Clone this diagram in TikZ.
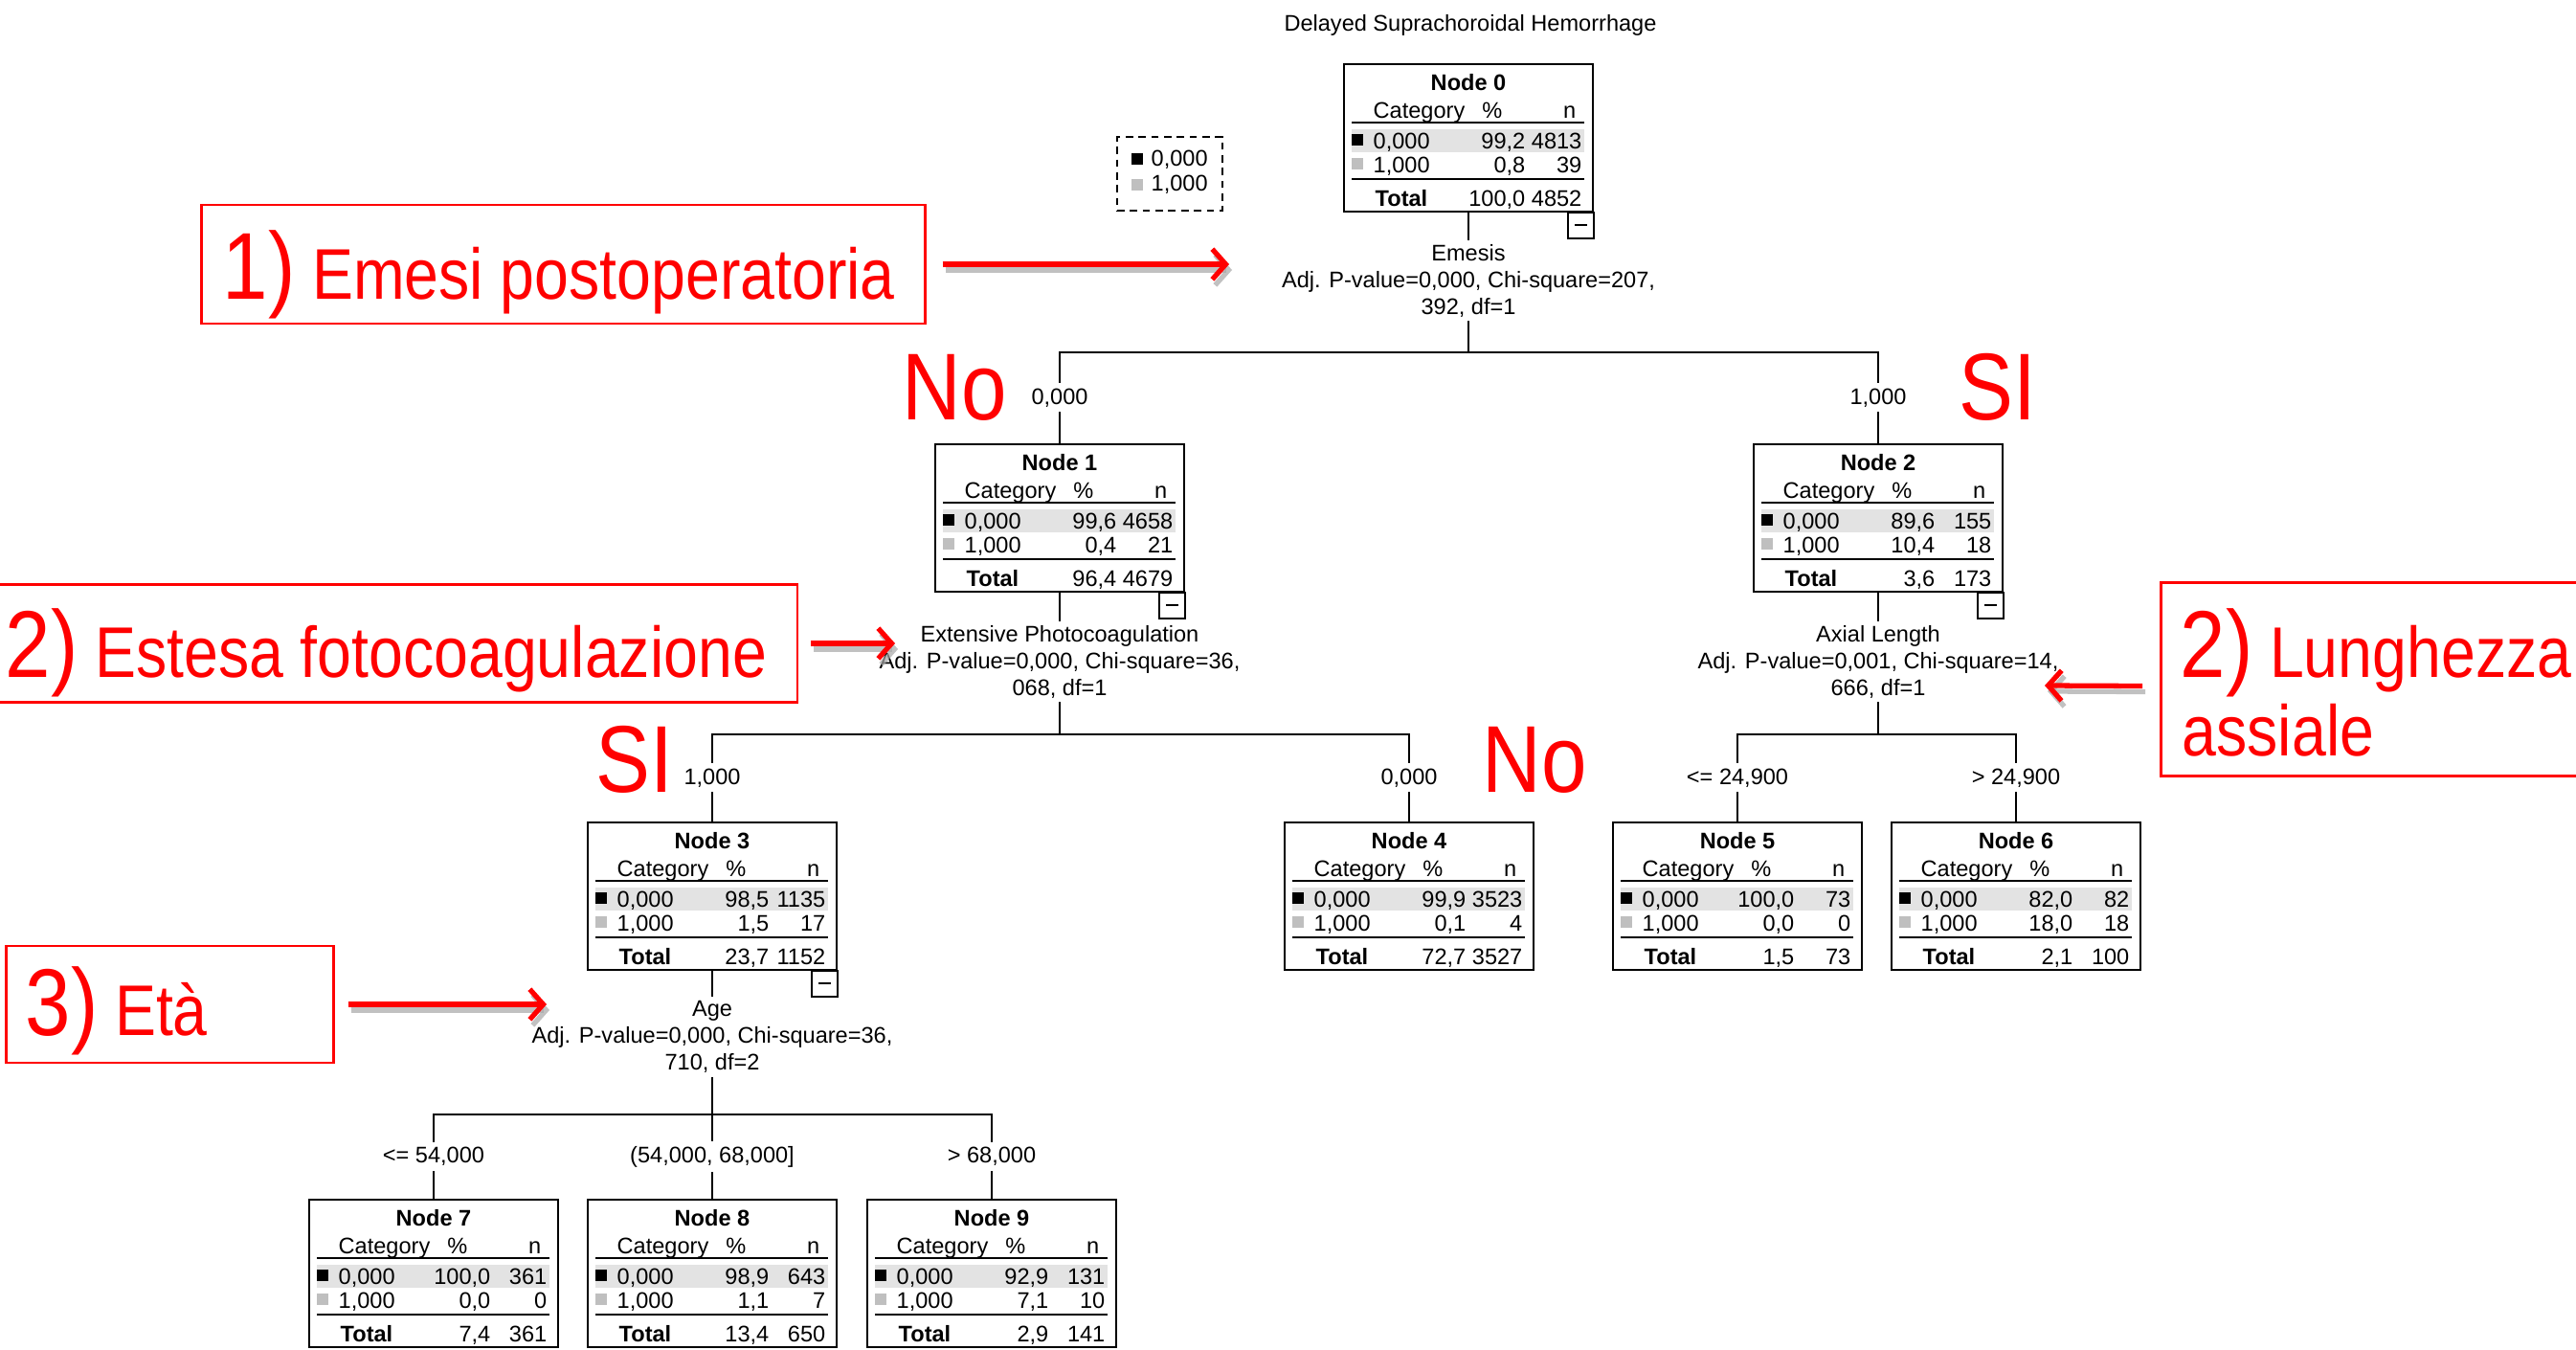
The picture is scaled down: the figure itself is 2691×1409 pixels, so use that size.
\documentclass[tikz,border=0pt]{standalone}
\usepackage{fontspec}
\usepackage{graphicx}
\setmainfont{Liberation Sans}
\usetikzlibrary{arrows.meta,calc}
\definecolor{rowgray}{HTML}{E3E3E3}
\definecolor{sqgray}{HTML}{BFBFBF}
\definecolor{annred}{HTML}{FF0000}
\definecolor{shadowgray}{HTML}{A8A8A8}
\newcommand{\tfont}{\fontsize{6.7pt}{7.97pt}\selectfont}
\newcommand{\AnnText}[1]{\scalebox{0.86}[1]{\fontsize{21.3pt}{25pt}\selectfont #1}}
\newcommand{\AnnBig}[1]{\scalebox{0.86}[1]{\fontsize{28.2pt}{32pt}\selectfont #1}}
\tikzset{
 tt/.style={inner sep=0pt, font=\tfont},
 ttb/.style={inner sep=0pt, font=\tfont\bfseries},
 tbox/.style={draw, line width=0.65pt, fill=white, minimum width=2.6cm, minimum height=1.54cm, inner sep=0pt},
 tline/.style={line width=0.6pt},
 conn/.style={line width=0.6pt},
 lbl/.style={fill=white, inner sep=1.5pt, font=\tfont},
 splitlbl/.style={inner sep=1pt, font=\tfont, align=center},
 annbox/.style={draw=annred, line width=0.8pt, inner sep=0pt},
 annopen/.style={draw=annred, line width=0.8pt},
 anntext/.style={inner sep=0pt, text=annred, anchor=base west},
 redlbl/.style={inner sep=0pt, text=annred, anchor=base},
 redarr/.style={draw=annred, line width=1.5pt, -{Straight Barb[length=4pt,width=9pt]}},
 shadarr/.style={draw=shadowgray, line width=1.5pt, opacity=0.7, -{Straight Barb[length=4pt,width=9pt]}},
}
% #1 index, #2 x centre, #3 top, #4 p0, #5 n0, #6 p1, #7 n1, #8 ptot, #9 ntot
\newcommand{\TNode}[9]{%
\begin{scope}[shift={(#2,#3)}]
\node[tbox] (n#1) at (0,77) {};
\fill[rowgray] (-122,68) rectangle (121,92);
\draw[tline] (-122,61) -- (121,61);
\draw[tline] (-122,120) -- (121,120);
\fill[black] (-122,73) rectangle (-110,85);
\fill[sqgray] (-122,98) rectangle (-110,110);
\node[ttb, anchor=base] (n#1title) at (0,27.5) {Node #1};
\node[tt, anchor=base west] (n#1hc) at (-100,56) {Category};
\node[tt, anchor=base east] (n#1hp) at (36,56) {\%};
\node[tt, anchor=base east] (n#1hn) at (113,56) {n};
\node[tt, anchor=base west] (n#1ca) at (-100,88.5) {0,000};
\node[tt, anchor=base east] (n#1pa) at (60,88.5) {#4};
\node[tt, anchor=base east] (n#1na) at (119,88.5) {#5};
\node[tt, anchor=base west] (n#1cb) at (-100,113.5) {1,000};
\node[tt, anchor=base east] (n#1pb) at (60,113.5) {#6};
\node[tt, anchor=base east] (n#1nb) at (119,113.5) {#7};
\node[ttb, anchor=base west] (n#1ct) at (-98,148) {Total};
\node[tt, anchor=base east] (n#1pt) at (60,148) {#8};
\node[tt, anchor=base east] (n#1nt) at (119,148) {#9};
\end{scope}}
\newcommand{\MinusBox}[1]{%
\draw[tline] (#1.south east) rectangle ++(-27,27);
\draw[tline] ($(#1.south east)+(-20,13)$) -- ++(13,0);}
\begin{document}
\begin{tikzpicture}[x=0.01cm, y=-0.01cm]
\useasboundingbox (0,0) rectangle (2691,1409);
\fill[white] (0,0) rectangle (2691,1409);

% title and legend
\node[tt] (title) at (1536,26) {Delayed Suprachoroidal Hemorrhage};
\node[draw, line width=0.6pt, dash pattern=on 2.2pt off 1.6pt, minimum width=1.1cm, minimum height=0.77cm, inner sep=0pt] (leg) at (1222,181.5) {};
\fill[black] (1182,160) rectangle (1194,172);
\fill[sqgray] (1182,187) rectangle (1194,199);
\node[tt, anchor=west] (leg0) at (1202,167) {0,000};
\node[tt, anchor=west] (leg1) at (1202,193) {1,000};

% tree nodes
\TNode{0}{1534}{67}{99,2}{4813}{0,8}{39}{100,0}{4852}
\TNode{1}{1107}{464}{99,6}{4658}{0,4}{21}{96,4}{4679}
\TNode{2}{1962}{464}{89,6}{155}{10,4}{18}{3,6}{173}
\TNode{3}{744}{859}{98,5}{1135}{1,5}{17}{23,7}{1152}
\TNode{4}{1472}{859}{99,9}{3523}{0,1}{4}{72,7}{3527}
\TNode{5}{1815}{859}{100,0}{73}{0,0}{0}{1,5}{73}
\TNode{6}{2106}{859}{82,0}{82}{18,0}{18}{2,1}{100}
\TNode{7}{453}{1253}{100,0}{361}{0,0}{0}{7,4}{361}
\TNode{8}{744}{1253}{98,9}{643}{1,1}{7}{13,4}{650}
\TNode{9}{1036}{1253}{92,9}{131}{7,1}{10}{2,9}{141}
\MinusBox{n0}
\MinusBox{n1}
\MinusBox{n2}
\MinusBox{n3}

% split texts
\node[splitlbl] (s0) at (1534,293) {Emesis\\Adj. P-value=0,000, Chi-square=207,\\392, df=1};
\node[splitlbl] (s1) at (1107,691) {Extensive Photocoagulation\\Adj. P-value=0,000, Chi-square=36,\\068, df=1};
\node[splitlbl] (s2) at (1962,691) {Axial Length\\Adj. P-value=0,001, Chi-square=14,\\666, df=1};
\node[splitlbl] (s3) at (744,1083) {Age\\Adj. P-value=0,000, Chi-square=36,\\710, df=2};

\coordinate (j0) at (1534,368);
\coordinate (j1) at (1107,767);
\coordinate (j2) at (1962,767);
\coordinate (j3) at (744,1164);

\draw[conn] (n0.south) -- (s0.north);
\draw[conn] (s0.south) -- (j0);
\draw[conn] (j0) -| (n1.north) node[lbl, pos=0.75] (e1) {0,000};
\draw[conn] (j0) -| (n2.north) node[lbl, pos=0.75] (e2) {1,000};

\draw[conn] (n1.south) -- (s1.north);
\draw[conn] (s1.south) -- (j1);
\draw[conn] (j1) -| (n3.north) node[lbl, pos=0.75] (e3) {1,000};
\draw[conn] (j1) -| (n4.north) node[lbl, pos=0.75] (e4) {0,000};

\draw[conn] (n2.south) -- (s2.north);
\draw[conn] (s2.south) -- (j2);
\draw[conn] (j2) -| (n5.north) node[lbl, pos=0.75] (e5) {<= 24,900};
\draw[conn] (j2) -| (n6.north) node[lbl, pos=0.75] (e6) {> 24,900};

\draw[conn] (n3.south) -- (s3.north);
\draw[conn] (s3.south) -- (j3);
\draw[conn] (j3) -| (n7.north) node[lbl, pos=0.75] (e7) {<= 54,000};
\draw[conn] (j3) -- (n8.north) node[lbl, midway] (e8) {(54,000, 68,000]};
\draw[conn] (j3) -| (n9.north) node[lbl, pos=0.75] (e9) {> 68,000};

% red branch labels
\node[redlbl] (no1) at (997,438) {\AnnBig{No}};
\node[redlbl] (si1) at (2087,438) {\AnnBig{SI}};
\node[redlbl] (si2) at (663,827) {\AnnBig{SI}};
\node[redlbl] (no2) at (1603,827) {\AnnBig{No}};

% annotation boxes
\node[annbox, minimum width=7.55cm, minimum height=1.24cm] (b1) at (588.5,276) {};
\node[anntext] (t1) at (232,312) {\AnnBig{1)}\hspace{5pt}\AnnText{Emesi postoperatoria}};

\node[inner sep=0pt, minimum width=8.32cm, minimum height=1.22cm] (b2) at (416,672) {};
\draw[annopen] (b2.north west) -- (b2.north east) -- (b2.south east) -- (b2.south west);
\node[anntext] (t2) at (5,707) {\AnnBig{2)}\hspace{5pt}\AnnText{Estesa fotocoagulazione}};

\node[annbox, minimum width=3.41cm, minimum height=1.22cm] (b3) at (177.5,1049) {};
\node[anntext] (t3) at (26,1081) {\AnnBig{3)}\hspace{5pt}\AnnText{Età}};

\node[inner sep=0pt, minimum width=4.33cm, minimum height=2.01cm] (b4) at (2474.5,709.5) {};
\draw[annopen] (b4.north east) -- (b4.north west) -- (b4.south west) -- (b4.south east);
\node[anntext] (t4a) at (2277,707) {\AnnBig{2)}\hspace{5pt}\AnnText{Lunghezza}};
\node[anntext] (t4b) at (2279,789) {\AnnText{assiale}};

% arrows
\coordinate (a1e) at (1284,276);
\coordinate (a2e) at (935,672);
\coordinate (a3e) at (571,1049);
\coordinate (a4e) at (2136,716);
\draw[shadarr] ([shift={(20,6)}]b1.east) -- ([shift={(3,6)}]a1e);
\draw[redarr] ([shift={(17,0)}]b1.east) -- (a1e);
\draw[shadarr] ([shift={(17,6)}]b2.east) -- ([shift={(3,6)}]a2e);
\draw[redarr] ([shift={(14,0)}]b2.east) -- (a2e);
\draw[shadarr] ([shift={(17,6)}]b3.east) -- ([shift={(3,6)}]a3e);
\draw[redarr] ([shift={(14,0)}]b3.east) -- (a3e);
\draw[shadarr] ([shift={(-16,13)}]b4.west) -- ([shift={(3,6)}]a4e);
\draw[redarr] ([shift={(-19,7)}]b4.west) -- (a4e);
\end{tikzpicture}
\end{document}
